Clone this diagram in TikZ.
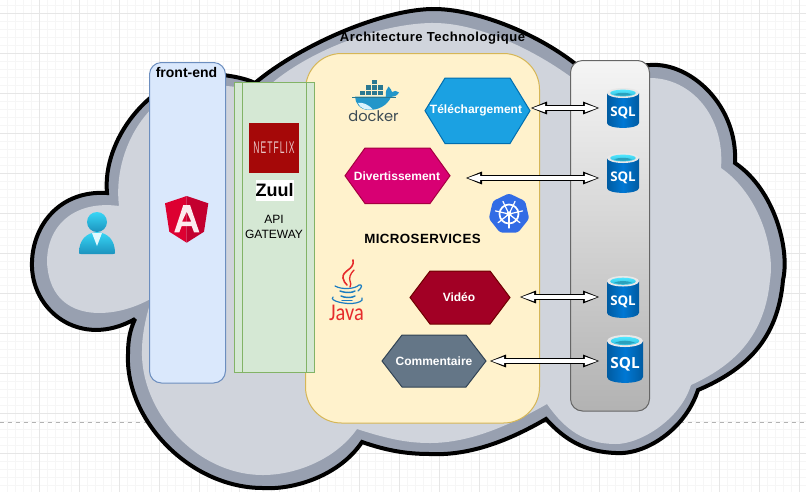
\documentclass[tikz,border=0pt]{standalone}
\usepackage{fontspec}
\setmainfont{Liberation Sans}
\newfontfamily\sqlfont{Open Sans}
\newfontfamily\dockerfont{Poppins}
\newfontfamily\javafont{Carlito}
\usetikzlibrary{arrows.meta,shapes.geometric}
\definecolor{cloudband}{HTML}{98A0B0}
\definecolor{cloudfill}{HTML}{D0D4DC}
\definecolor{gridmajor}{HTML}{E6E6E6}
\definecolor{gridminor}{HTML}{F6F6F6}
\definecolor{feFill}{HTML}{DAE8FC}
\definecolor{feLine}{HTML}{6C8EBF}
\definecolor{gwFill}{HTML}{D5E8D4}
\definecolor{gwLine}{HTML}{82B366}
\definecolor{msFill}{HTML}{FFF2CC}
\definecolor{msLine}{HTML}{D6B656}
\definecolor{sqlBlueA}{HTML}{005BA1}
\definecolor{sqlBlueB}{HTML}{0078D4}
\definecolor{sqlRim}{HTML}{E8E8E8}
\definecolor{sqlCyan}{HTML}{50E6FF}
\definecolor{sqlCyanD}{HTML}{32BEDD}
\definecolor{javaRed}{HTML}{E62B2B}
\definecolor{javaBlue}{HTML}{1B7CC0}
\definecolor{dockBlue}{HTML}{2396C9}
\definecolor{dockDark}{HTML}{2A7891}
\definecolor{dockText}{HTML}{3D4C55}
\definecolor{k8sblue}{HTML}{326CE5}
\definecolor{hexA}{HTML}{1BA1E2}\definecolor{hexAl}{HTML}{006EAF}
\definecolor{hexB}{HTML}{D80073}\definecolor{hexBl}{HTML}{A50040}
\definecolor{hexC}{HTML}{A20025}\definecolor{hexCl}{HTML}{6F0000}
\definecolor{hexD}{HTML}{647687}\definecolor{hexDl}{HTML}{314354}
\definecolor{angRed}{HTML}{DD0031}\definecolor{angDark}{HTML}{C3002F}
\definecolor{nfRed}{HTML}{A50808}
\definecolor{nfText}{HTML}{E8C4C4}
\definecolor{userTop}{HTML}{38D6F6}\definecolor{userBot}{HTML}{1C93BE}
\tikzset{
  x=0.75pt,y=-0.75pt,
  panel/.style={rectangle,inner sep=0pt,outer sep=0pt,line width=0.75pt},
  label/.style={inner sep=0pt,outer sep=0pt,align=center},
  boldlabel/.style={label,font=\fontsize{10pt}{11pt}\selectfont\bfseries},
  hexlabel/.style={label,text=white,font=\fontsize{9pt}{11pt}\selectfont\bfseries},
  hexshape/.style={line width=0.75pt,line join=miter},
  fatarrow/.style={line width=4.4pt,black,
    {Triangle[length=12.75pt,width=8.6pt]}-{Triangle[length=12.75pt,width=8.6pt]},
    postaction={draw=white,line width=2.4pt,
      {Triangle[length=10.2pt,width=5.6pt,fill=white]}-{Triangle[length=10.2pt,width=5.6pt,fill=white]},
      shorten >=1.1pt,shorten <=1.1pt}},
  sqllabel/.style={label,text=white}
}
\newcommand{\hexnode}[8]{%
  % name, x0, x1, y0, y1, inset, fill, line
  \draw[hexshape,fill=#7,draw=#8] (#2,{(#4+#5)/2}) -- (#2+#6,#4) -- (#3-#6,#4) -- (#3,{(#4+#5)/2}) -- (#3-#6,#5) -- (#2+#6,#5) -- cycle;
  \coordinate (#1E) at (#3,{(#4+#5)/2});
}
\newcommand{\sqlicon}[6]{%
  % name, x0, x1, y0, y1, font px
  \pgfmathsetmacro{\cxx}{(#2+#3)/2}
  \pgfmathsetmacro{\rxx}{(#3-#2)/2}
  \pgfmathsetmacro{\ryy}{(#5-#4)*0.125}
  \path[left color=sqlBlueA,right color=sqlBlueA,middle color=sqlBlueB]
     (#2,#4+\ryy) -- (#2,#5-\ryy) .. controls (#2,#5+\ryy*0.3) and (#3,#5+\ryy*0.3) .. (#3,#5-\ryy) -- (#3,#4+\ryy) -- cycle;
  \fill[sqlRim] (\cxx,#4+\ryy) ellipse [x radius=\rxx,y radius=\ryy];
  \path[top color=sqlCyan,bottom color=sqlCyanD] (\cxx,#4+\ryy) ellipse [x radius=\rxx*0.8,y radius=\ryy*0.68];
  \fill[sqlCyanD!85!black] (\cxx-\rxx*0.55,#4+\ryy*1.25) .. controls (\cxx-\rxx*0.2,#4+\ryy*0.85) and (\cxx+\rxx*0.2,#4+\ryy*0.85) .. (\cxx+\rxx*0.55,#4+\ryy*1.25) .. controls (\cxx+\rxx*0.2,#4+\ryy*1.65) and (\cxx-\rxx*0.2,#4+\ryy*1.65) .. cycle;
  \node[sqllabel,font=\sqlfont\fontsize{#6pt}{#6pt}\selectfont\bfseries,minimum width={(#3-#2)*0.75pt},minimum height=10pt] (#1) at (\cxx,{(#4+#5)/2+\ryy*0.95}) {SQL};
}
\newcommand{\cloudoutline}{%
  (107,193) .. controls (102,140) and (150,78) .. (205,74)
  .. controls (225,74) and (245,78) .. (255,83)
  .. controls (300,45) and (385,8) .. (436,9)
  .. controls (480,10) and (540,35) .. (578,66)
  -- (650,65)
  .. controls (690,62) and (738,105) .. (735,163)
  .. controls (775,190) and (790,250) .. (783,280)
  .. controls (778,340) and (745,370) .. (698,390)
  .. controls (685,430) and (645,455) .. (616,453)
  .. controls (585,452) and (565,440) .. (546,419)
  .. controls (510,440) and (470,456) .. (430,454)
  .. controls (405,454) and (385,450) .. (362,442)
  .. controls (340,475) and (295,490) .. (263,488)
  .. controls (190,488) and (125,420) .. (128,354)
  .. controls (128,340) and (130,330) .. (135,319)
  .. controls (80,350) and (30,310) .. (32,262)
  .. controls (33,225) and (60,190) .. (107,193)
  -- cycle}
\newcommand{\cloudinner}{%
  (119,206) .. controls (112,150) and (150,85) .. (205,85)
  .. controls (225,85) and (250,88) .. (262,92)
  .. controls (305,50) and (385,22) .. (436,23)
  .. controls (480,24) and (535,50) .. (575,80)
  -- (650,78)
  .. controls (690,78) and (725,115) .. (721,168)
  .. controls (760,195) and (775,250) .. (770,280)
  .. controls (765,335) and (735,365) .. (691,385)
  .. controls (680,420) and (640,444) .. (616,444)
  .. controls (585,444) and (565,430) .. (547,404)
  .. controls (510,425) and (470,443) .. (430,443)
  .. controls (405,443) and (385,438) .. (357,429)
  .. controls (335,460) and (295,475) .. (263,475)
  .. controls (195,475) and (140,410) .. (142,350)
  .. controls (142,335) and (146,315) .. (152,298)
  .. controls (115,320) and (50,325) .. (47,262)
  .. controls (47,225) and (75,200) .. (119,206)
  -- cycle}
\begin{document}
\begin{tikzpicture}
\useasboundingbox (0,0) rectangle (806,494);
\fill[white] (0,0) rectangle (806,494);
% grid
\foreach \k in {-4,...,96} {
  \draw[gridminor,line width=0.5pt] ({39.5+8*\k},0) -- ({39.5+8*\k},492);
}
\foreach \k in {-1,...,59} {
  \draw[gridminor,line width=0.5pt] (0,{13.5+8*\k}) -- (806,{13.5+8*\k});
}
\foreach \k in {0,...,19} {
  \draw[gridmajor,line width=0.6pt] ({39.5+40*\k},0) -- ({39.5+40*\k},492);
}
\foreach \k in {0,...,11} {
  \draw[gridmajor,line width=0.6pt] (0,{13.5+40*\k}) -- (806,{13.5+40*\k});
}
\draw[gray!60,line width=0.5pt,dashed] (0,422) -- (806,422);
% cloud
\draw[fill=cloudband,draw=black,line width=3pt,line join=miter,miter limit=3] \cloudoutline;
\fill[cloudfill] \cloudinner;
% microservices panel
\node[panel,draw=msLine,fill=msFill,rounded corners=27pt,minimum width=234*0.75pt,minimum height=369.5*0.75pt] (ms) at (422.5,238.25) {};
\node[boldlabel,font=\fontsize{9.8pt}{11pt}\selectfont\bfseries\addfontfeature{LetterSpace=4}] (title) at (432.5,38) {Architecture Technologique};
% front-end
\node[panel,draw=feLine,fill=feFill,rounded corners=9pt,minimum width=76*0.75pt,minimum height=320.5*0.75pt] (fe) at (187.5,222.75) {};
\node[boldlabel,font=\fontsize{10.5pt}{11pt}\selectfont\bfseries] (fetitle) at (186.5,72) {front-end};
% gateway
\node[panel,draw=gwLine,fill=gwFill,minimum width=80*0.75pt,minimum height=289.5*0.75pt] (gw) at (274.5,227.25) {};
\draw[gwLine,line width=0.75pt] (242.5,82.5) -- (242.5,372);
\draw[gwLine,line width=0.75pt] (306.5,82.5) -- (306.5,372);
% database panel
\node[panel,draw=black!60,top color=black!4,bottom color=black!30,rounded corners=9pt,minimum width=79*0.75pt,minimum height=350.5*0.75pt] (db) at (610,235.75) {};
% user icon
\path[top color=userTop,bottom color=userBot] (79,253) .. controls (79,240) and (86,233) .. (97,232) .. controls (108,233) and (115,240) .. (115,253) .. controls (115,254) and (114,254) .. (113,254) -- (81,254) .. controls (80,254) and (79,254) .. (79,253) -- cycle;
\fill[white!85!userTop] (92,233) -- (102,233) -- (97,246) -- cycle;
\path[top color=userTop,bottom color=userBot] (97,222) circle [radius=10];
% angular icon
\fill[angRed] (186.7,196) -- (165,203.3) -- (169.3,231.7) -- (186.7,242.7) -- cycle;
\fill[angDark] (186.7,196) -- (186.7,242.7) -- (204,231.7) -- (208.3,203.3) -- cycle;
\fill[white!92!angRed,even odd rule] (183.3,205) -- (190,205) -- (199.3,232.3) -- (194,232.3) -- (191.7,226) -- (181.7,226) -- (179.3,232.3) -- (174.3,232.3) -- cycle
  (186.7,211.7) -- (191.3,221.7) -- (182,221.7) -- cycle;
% netflix
\node[panel,fill=nfRed,minimum width=50*0.75pt,minimum height=50*0.75pt] (nf) at (274,148) {};
\node[label,text=nfText] (nftext) at (nf) {\scalebox{0.68}[1.35]{\fontsize{9.4pt}{10pt}\selectfont\addfontfeature{LetterSpace=12}NETFLIX}};
\node[label,fill=white,font=\fontsize{13.5pt}{15pt}\selectfont\bfseries,minimum width=38*0.75pt,minimum height=21*0.75pt] (zuul) at (274.5,190.5) {Zuul};
\node[label,font=\fontsize{9pt}{10.8pt}\selectfont] (api) at (274,227) {API\\GATEWAY};
% docker
\fill[dockBlue] (355,96.5) -- (386,96.5) .. controls (385.5,92) and (386,89) .. (388.5,86.5) .. controls (390.5,88.5) and (391.5,90) .. (392,92) .. controls (394,90.5) and (397,90.5) .. (399,92.5) .. controls (397,96) and (393.5,97) .. (391,97) .. controls (387,106) and (378,110) .. (369,110) .. controls (360,110) and (355,103) .. (355,96.5) -- cycle;
\fill[white!85!cyan] (358,103) .. controls (362,102) and (368,104) .. (373,109.5) .. controls (365,110.5) and (360,108) .. (358,103) -- cycle;
\foreach \bx/\by in {360/90.5,366/90.5,372/90.5,378/90.5,366/85,372/85,372/79.5,378/85}{
  \fill[dockDark] (\bx,\by) rectangle ++(5.2,4.8);
}
\draw[dockDark,line width=0.4pt] (352,97) -- (396,97);
\node[label,text=dockText,font=\dockerfont\fontsize{11pt}{12pt}\selectfont] (dock) at (373.5,116.5) {docker};
% kubernetes
\node[regular polygon,regular polygon sides=7,fill=k8sblue,minimum size=31pt,inner sep=0pt,rounded corners=2pt] (k8s) at (509,214) {};
\draw[white,line width=1.3pt] (509,214) circle [radius=9.5];
\fill[white] (509,214) circle [radius=2.6];
\foreach \a in {90,141.43,192.86,244.29,295.71,347.14,38.57}{
  \draw[white,line width=0.9pt,line cap=round] (509,214) -- ++(\a:14);
}
% java
\begin{scope}[line cap=round]
\draw[javaRed,line width=1.2pt] (353,260) .. controls (355,270) and (342,270) .. (343,278) .. controls (343.5,281) and (345,283) .. (347,285);
\draw[javaRed,line width=1pt] (354,270) .. controls (350,274) and (349,278) .. (350,281) .. controls (351,283) and (351,285) .. (350,287);
\draw[javaBlue,line width=0.9pt] (335,286) .. controls (342,290) and (355,289) .. (359,285) .. controls (362,284) and (363,287) .. (358,291);
\draw[javaBlue,line width=1.1pt] (340,291) .. controls (345,293) and (352,293) .. (355,291);
\draw[javaBlue,line width=1.1pt] (341,296) .. controls (345,298) and (352,298) .. (355,296);
\draw[javaBlue,line width=1.1pt] (342,300.5) -- (352,300.5);
\draw[javaBlue,line width=0.9pt] (333,297) .. controls (329,301) and (345,304) .. (352,303.5) .. controls (358,303) and (364,301) .. (362,298);
\end{scope}
\node[label,text=javaRed,font=\javafont] (java) at (346.5,313) {\scalebox{0.85}[1]{\fontsize{18pt}{20pt}\selectfont Java}};
% hexagons
\hexnode{tele}{425}{530}{78}{143.5}{20}{hexA}{hexAl}
\node[hexlabel] (teletext) at (476,110) {Téléchargement};
\hexnode{div}{345}{450}{148}{203.5}{20}{hexB}{hexBl}
\node[hexlabel] (divtext) at (397,176.5) {Divertissement};
\hexnode{vid}{410}{510}{271}{324}{20}{hexC}{hexCl}
\node[hexlabel] (vidtext) at (459,297) {Vidéo};
\hexnode{com}{382}{486}{335}{387}{20}{hexD}{hexDl}
\node[hexlabel] (comtext) at (434,361) {Commentaire};
\node[boldlabel,font=\fontsize{10pt}{11pt}\selectfont\bfseries\addfontfeature{LetterSpace=3}] (mstext) at (422.5,239) {MICROSERVICES};
% SQL icons
\sqlicon{sqlA}{607}{639}{88}{128}{10}
\sqlicon{sqlB}{607}{639}{153}{193}{10}
\sqlicon{sqlC}{607}{639}{276}{318}{10}
\sqlicon{sqlD}{607}{643}{335}{383}{11.5}
% connectors
\coordinate (aA) at (600,108);
\coordinate (aB) at (600,178);
\coordinate (aC) at (600,297);
\coordinate (aD) at (600,361);
\coordinate (sB) at (465,178);
\coordinate (sC) at (519,297);
\coordinate (sD) at (489,361);
\draw[fatarrow] (teleE |- aA) -- (aA);
\draw[fatarrow] (sB) -- (aB);
\draw[fatarrow] (sC) -- (aC);
\draw[fatarrow] (sD) -- (aD);
\end{tikzpicture}
\end{document}
